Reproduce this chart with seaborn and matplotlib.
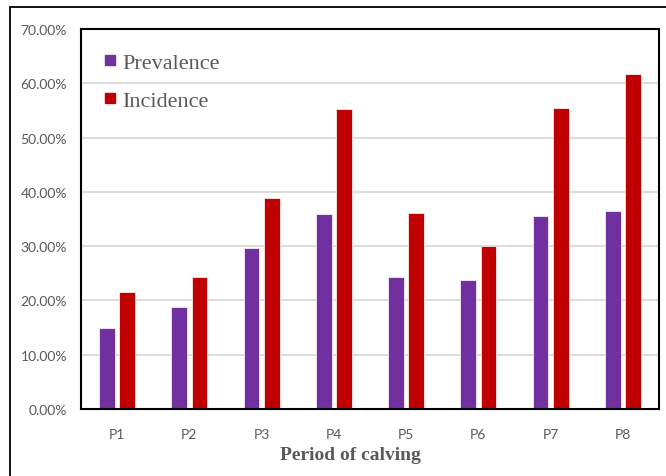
import matplotlib
matplotlib.use("Agg")
import matplotlib.pyplot as plt
from matplotlib.lines import Line2D
import seaborn as sns
import pandas as pd

# Periods of calving and the two rates (%) per period
periods = ["P1", "P2", "P3", "P4", "P5", "P6", "P7", "P8"]
prevalence = [14.9, 18.8, 29.7, 35.9, 24.4, 23.7, 35.6, 36.4]
incidence = [21.5, 24.4, 38.9, 55.2, 36.1, 30.0, 55.5, 61.8]
series = ["Prevalence", "Incidence"]
colors = ["#7030A0", "#C00000"]
y_ticks = [0, 10, 20, 30, 40, 50, 60, 70]

df = pd.DataFrame({
    "period": periods * 2,
    "series": [series[0]] * len(periods) + [series[1]] * len(periods),
    "value": prevalence + incidence,
})

sns.set_theme(style="white")
plt.rcParams["font.family"] = ["Lato", "DejaVu Sans"]

W, H = 666, 477
fig = plt.figure(figsize=(W / 100, H / 100), dpi=100)
fig.patch.set_facecolor("white")

# plot area in pixel coordinates
left, right, top, bottom = 81, 659, 30, 410
ax = fig.add_axes([left / W, (H - bottom) / H, (right - left) / W, (bottom - top) / H])

sns.barplot(data=df, x="period", y="value", hue="series", hue_order=series,
            palette=colors, width=0.56, gap=0.22, ax=ax, legend=False,
            edgecolor="white", linewidth=0.5, saturation=1)

ax.set_ylim(0, 70)
ax.set_xlim(-0.5, len(periods) - 0.5)
ax.set_yticks(y_ticks)
ax.set_yticklabels([f"{v:.2f}%" for v in y_ticks])
ax.yaxis.grid(True, color="#D9D9D9", linewidth=1.3)
ax.set_axisbelow(True)
ax.tick_params(axis="both", length=0, colors="#595959", labelsize=10)
ax.tick_params(axis="y", pad=10)
ax.tick_params(axis="x", pad=14)

for s in ax.spines.values():
    s.set_visible(True)
    s.set_color("black")
    s.set_linewidth(1.5)

ax.set_ylabel("")
ax.set_xlabel("Period of calving", family=["Liberation Serif", "DejaVu Serif"],
              fontweight="bold", fontsize=14, color="#595959", labelpad=4)
ax.xaxis.set_label_coords((350 - left) / (right - left), -0.097)

handles = [Line2D([0], [0], marker="s", linestyle="none", markersize=7.5,
                  markerfacecolor=c, markeredgecolor=c) for c in colors]
leg = ax.legend(handles, series, loc="upper left",
                bbox_to_anchor=((103 - left) / (right - left), (bottom - 53) / (bottom - top)),
                frameon=False, handlelength=0.6, handletextpad=0.25,
                labelspacing=0.8, borderpad=0, borderaxespad=0,
                prop={"family": ["Liberation Serif", "DejaVu Serif"], "size": 16})
for t in leg.get_texts():
    t.set_color("#595959")

# outer chart border (top and left edges)
fig.add_artist(Line2D([9.5 / W, 9.5 / W], [0, 1 - 8 / H], transform=fig.transFigure,
                      color="black", linewidth=1.3))
fig.add_artist(Line2D([9.5 / W, 1], [1 - 8 / H, 1 - 8 / H], transform=fig.transFigure,
                      color="black", linewidth=1.3))

fig.savefig("out.png", dpi=100)
